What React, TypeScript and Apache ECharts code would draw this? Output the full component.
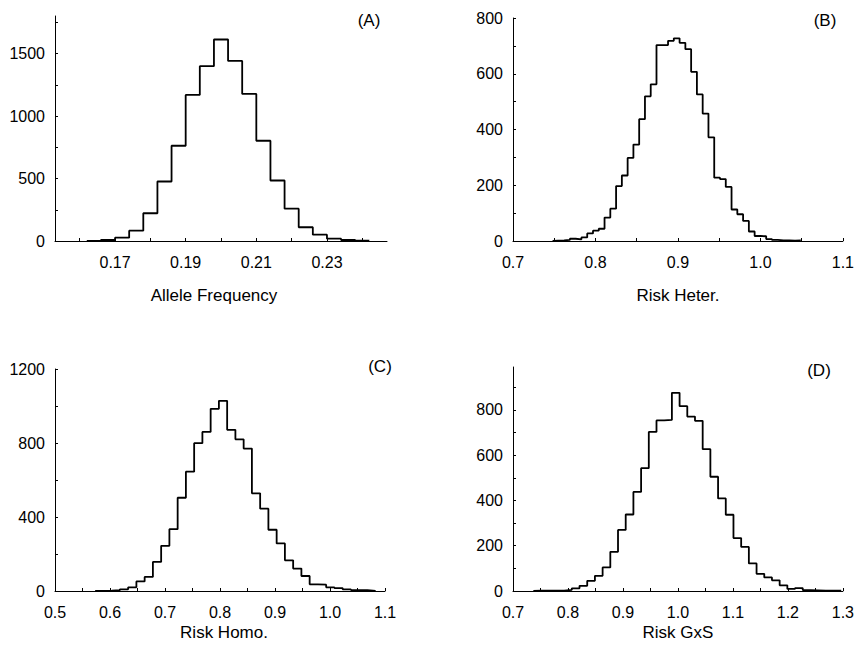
import React, { useEffect, useRef } from 'react';
import * as echarts from 'echarts';

// Panel A: Allele Frequency
const startA = 0.162;
const binA = 0.004;
const countsA = [2, 8, 27, 83, 222, 476, 762, 1169, 1399, 1612, 1441, 1177, 802, 484, 259, 110, 51, 19, 8, 2];
const xLabelsA = [0.17, 0.19, 0.21, 0.23];
const xTicksA = [0.16, 0.17, 0.18, 0.19, 0.2, 0.21, 0.22, 0.23, 0.24];
const yLabelsA = [0, 500, 1000, 1500];
const yTicksA = [0, 250, 500, 750, 1000, 1250, 1500, 1750];

// Panel B: Risk Heter.
const startB = 0.748;
const binB = 0.007;
const countsB = [1, 2, 4, 8, 6, 13, 27, 37, 44, 84, 116, 197, 235, 298, 346, 437, 519, 562, 703, 703, 718, 727, 711, 688, 607, 526, 457, 372, 227, 222, 194, 113, 96, 72, 34, 18, 17, 7, 4, 2, 2, 1, 2];
const xLabelsB = [0.7, 0.8, 0.9, 1.0, 1.1];
const xTicksB = [0.7, 0.75, 0.8, 0.85, 0.9, 0.95, 1.0, 1.05, 1.1];
const yLabelsB = [0, 200, 400, 600, 800];
const yTicksB = [0, 100, 200, 300, 400, 500, 600, 700, 800];

// Panel C: Risk Homo.
const startC = 0.573;
const binC = 0.015;
const countsC = [1, 2, 4, 9, 20, 52, 76, 157, 244, 334, 504, 645, 799, 860, 985, 1028, 871, 820, 770, 528, 445, 331, 257, 166, 121, 81, 36, 34, 20, 16, 9, 5, 4, 1];
const xLabelsC = [0.5, 0.6, 0.7, 0.8, 0.9, 1.0, 1.1];
const xTicksC = [0.5, 0.55, 0.6, 0.65, 0.7, 0.75, 0.8, 0.85, 0.9, 0.95, 1.0, 1.05, 1.1];
const yLabelsC = [0, 400, 800, 1200];
const yTicksC = [0, 200, 400, 600, 800, 1000, 1200];

// Panel D: Risk GxS
const startD = 0.737;
const binD = 0.014;
const countsD = [1, 1, 1, 2, 5, 12, 23, 45, 67, 104, 173, 270, 338, 438, 543, 703, 754, 756, 876, 817, 771, 752, 627, 505, 409, 337, 234, 195, 122, 76, 60, 47, 25, 9, 13, 4, 3, 2, 1, 1];
const xLabelsD = [0.7, 0.8, 0.9, 1.0, 1.1, 1.2, 1.3];
const xTicksD = [0.7, 0.75, 0.8, 0.85, 0.9, 0.95, 1.0, 1.05, 1.1, 1.15, 1.2, 1.25, 1.3];
const yLabelsD = [0, 200, 400, 600, 800];
const yTicksD = [0, 100, 200, 300, 400, 500, 600, 700, 800, 900];

const FONT = '"Liberation Sans", Arial, Helvetica, sans-serif';

function stairs(start: number, width: number, counts: number[]): number[][] {
  const pts: number[][] = [[start, 0]];
  counts.forEach((c, i) => {
    const e0 = start + i * width;
    const e1 = start + (i + 1) * width;
    pts.push([e0, c], [e1, c]);
  });
  pts.push([start + counts.length * width, 0]);
  return pts;
}

const panels = [
  { grid: { left: 55, top: 16, width: 332, height: 225 }, xMin: 0.153, xMax: 0.247, xLabels: xLabelsA, xTicks: xTicksA, dec: 2, yMax: 1800, yLabels: yLabelsA, yTicks: yTicksA, name: 'Allele Frequency', gap: 46, namePad: [0, 14, 0, 0], letter: '(A)', lx: 369, ly: 20, data: stairs(startA, binA, countsA) },
  { grid: { left: 513, top: 18, width: 332, height: 223 }, xMin: 0.7, xMax: 1.1, xLabels: xLabelsB, xTicks: xTicksB, dec: 1, yMax: 800, yLabels: yLabelsB, yTicks: yTicksB, name: 'Risk Heter.', gap: 46, namePad: [0, 0, 0, 0], letter: '(B)', lx: 825, ly: 20, data: stairs(startB, binB, countsB) },
  { grid: { left: 55, top: 369, width: 330, height: 222 }, xMin: 0.5, xMax: 1.1, xLabels: xLabelsC, xTicks: xTicksC, dec: 1, yMax: 1200, yLabels: yLabelsC, yTicks: yTicksC, name: 'Risk Homo.', gap: 33, namePad: [0, 0, 0, 8], letter: '(C)', lx: 380, ly: 366, data: stairs(startC, binC, countsC) },
  { grid: { left: 513, top: 367, width: 332, height: 224 }, xMin: 0.7, xMax: 1.3, xLabels: xLabelsD, xTicks: xTicksD, dec: 1, yMax: 990, yLabels: yLabelsD, yTicks: yTicksD, name: 'Risk GxS', gap: 33, namePad: [0, 0, 0, 0], letter: '(D)', lx: 819, ly: 370, data: stairs(startD, binD, countsD) },
];

export default function App() {
  const ref = useRef<HTMLDivElement>(null);
  useEffect(() => {
    document.body.style.margin = '0';
    if (!ref.current) return;
    const chart = echarts.init(ref.current, undefined, { renderer: 'svg' });
    const option: any = {
      animation: false,
      backgroundColor: '#ffffff',
      textStyle: { fontFamily: FONT },
      grid: panels.map((p) => ({ ...p.grid, containLabel: false })),
      xAxis: panels.map((p, i) => ({
        type: 'value',
        gridIndex: i,
        min: p.xMin,
        max: p.xMax,
        name: p.name,
        nameLocation: 'middle',
        nameGap: p.gap,
        nameTextStyle: { fontSize: 17, color: '#000', fontFamily: FONT, padding: p.namePad },
        axisLine: { show: true, onZero: false, lineStyle: { color: '#000', width: 1 } },
        axisTick: { show: true, inside: true, length: 3, customValues: p.xTicks, lineStyle: { color: '#000' } },
        axisLabel: {
          show: true,
          margin: 13,
          customValues: p.xLabels,
          fontSize: 16,
          color: '#000',
          fontFamily: FONT,
          formatter: (v: number) => v.toFixed(p.dec),
        },
        splitLine: { show: false },
      })),
      yAxis: panels.map((p, i) => ({
        type: 'value',
        gridIndex: i,
        min: 0,
        max: p.yMax,
        axisLine: { show: true, lineStyle: { color: '#000', width: 1 } },
        axisTick: { show: true, inside: true, length: 3, customValues: p.yTicks, lineStyle: { color: '#000' } },
        axisLabel: {
          show: true,
          margin: 10,
          customValues: p.yLabels,
          fontSize: 16,
          color: '#000',
          fontFamily: FONT,
          formatter: (v: number) => String(Math.round(v)),
        },
        splitLine: { show: false },
      })),
      series: panels.map((p, i) => ({
        type: 'line',
        xAxisIndex: i,
        yAxisIndex: i,
        data: p.data,
        symbol: 'none',
        lineStyle: { color: '#000', width: 1.8 },
        z: 3,
      })),
      graphic: panels.map((p) => ({
        type: 'text',
        x: p.lx,
        y: p.ly,
        style: { text: p.letter, fontSize: 17, fill: '#000', align: 'center', verticalAlign: 'middle', fontFamily: FONT },
      })),
    };
    chart.setOption(option);
    return () => chart.dispose();
  }, []);
  return <div ref={ref} style={{ width: 857, height: 651 }} />;
}
